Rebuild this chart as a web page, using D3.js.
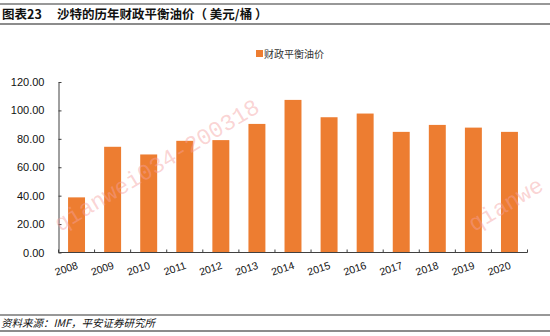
<!DOCTYPE html>
<html>
<head>
<meta charset="utf-8">
<script src="https://cdn.jsdelivr.net/npm/d3@7"></script>
<style>
  html, body { margin: 0; padding: 0; background: #fff; }
  svg { display: block; }
</style>
</head>
<body>
<svg id="chart" width="550" height="336"></svg>
<script>
// Saudi fiscal break-even oil price, USD per barrel
const years = ["2008", "2009", "2010", "2011", "2012", "2013", "2014",
               "2015", "2016", "2017", "2018", "2019", "2020"];
const breakEven = [38.8, 74.4, 69.0, 78.6, 79.1, 90.5, 107.4,
                   95.2, 97.8, 84.9, 89.8, 87.9, 84.9];
const yTicks = [0, 20, 40, 60, 80, 100, 120];
const seriesName = "财政平衡油价";

const svg = d3.select("#chart");
const font = "'Liberation Sans', Arial, 'Noto Sans CJK SC', sans-serif";
const cjk = "'Noto Sans CJK SC', 'Liberation Sans', sans-serif";

// header bar
svg.append("line").attr("x1", 0).attr("x2", 550).attr("y1", 4).attr("y2", 4)
  .attr("stroke", "#333").attr("stroke-width", 1.2);
svg.append("line").attr("x1", 0).attr("x2", 550).attr("y1", 24).attr("y2", 24)
  .attr("stroke", "#666").attr("stroke-width", 1.6);
svg.append("text").attr("x", 2).attr("y", 19)
  .attr("font-family", cjk).attr("font-size", 12.5).attr("font-weight", "bold")
  .attr("fill", "#111").text("图表23");
svg.append("text").attr("x", 57).attr("y", 19)
  .attr("font-family", cjk).attr("font-size", 12.5).attr("font-weight", "bold")
  .attr("fill", "#111").attr("xml:space", "preserve")
  .text("沙特的历年财政平衡油价（ 美元/桶 ）");

// footer
svg.append("line").attr("x1", 0).attr("x2", 550).attr("y1", 315).attr("y2", 315)
  .attr("stroke", "#333").attr("stroke-width", 1.2);
svg.append("line").attr("x1", 0).attr("x2", 550).attr("y1", 331).attr("y2", 331)
  .attr("stroke", "#666").attr("stroke-width", 1.6);
svg.append("text").attr("x", 1).attr("y", 327)
  .attr("font-family", cjk).attr("font-size", 10.5).attr("font-style", "italic")
  .attr("fill", "#111").text("资料来源：IMF，平安证券研究所");

// plot area
const plotL = 58.5, plotR = 527.5, plotT = 82, plotB = 252.5;
const x = d3.scaleBand().domain(years).range([plotL, plotR]).paddingInner(0.53).paddingOuter(0.265);
const y = d3.scaleLinear().domain([0, 120]).range([plotB, plotT]);
const orange = "#ED7D31";

// bars
svg.append("g").selectAll("rect").data(years).join("rect")
  .attr("x", d => x(d))
  .attr("y", (d, i) => y(breakEven[i]))
  .attr("width", x.bandwidth())
  .attr("height", (d, i) => y(0) - y(breakEven[i]))
  .attr("fill", orange);

// y axis: ticks point inward
const yAxis = svg.append("g").attr("transform", `translate(${plotL},0)`)
  .call(d3.axisLeft(y).tickValues(yTicks).tickFormat(d3.format(".2f")).tickSizeInner(-3).tickSizeOuter(0).tickPadding(14));
yAxis.select(".domain").attr("stroke", "#404040");
yAxis.selectAll(".tick line").attr("stroke", "#404040");
yAxis.selectAll("text").attr("font-family", font).attr("font-size", 11).attr("fill", "#111");

// x axis: category boundaries as inward ticks
const step = x.step();
const bounds = d3.range(years.length + 1).map(i => plotL + i * step);
const xg = svg.append("g");
xg.append("line").attr("x1", plotL).attr("x2", plotR).attr("y1", plotB).attr("y2", plotB)
  .attr("stroke", "#404040").attr("stroke-width", 1.2);
xg.selectAll("line.tk").data(bounds).join("line").attr("class", "tk")
  .attr("x1", d => d).attr("x2", d => d).attr("y1", plotB).attr("y2", plotB - 3)
  .attr("stroke", "#404040");
xg.selectAll("text").data(years).join("text")
  .attr("text-anchor", "end")
  .attr("font-family", font).attr("font-size", 10.5).attr("fill", "#111")
  .attr("transform", d => `translate(${x(d) + x.bandwidth() / 2 + 2},${plotB + 16}) rotate(-18)`)
  .text(d => d);

// legend
svg.append("rect").attr("x", 256).attr("y", 50).attr("width", 7).attr("height", 7).attr("fill", orange);
svg.append("text").attr("x", 264).attr("y", 57.5)
  .attr("font-family", cjk).attr("font-size", 10).attr("fill", "#333").text(seriesName);

// watermark
const wm = svg.append("g").attr("pointer-events", "none")
  .attr("font-family", "'Liberation Mono', 'DejaVu Sans Mono', monospace")
  .attr("font-size", 23).attr("fill", "#f5a0a0").attr("fill-opacity", 0.45);
wm.append("text").attr("transform", "translate(60,232) rotate(-31)").text("qianwei034-200318");
wm.append("text").attr("transform", "translate(474,232) rotate(-31)").text("qianwe");
</script>
</body>
</html>
